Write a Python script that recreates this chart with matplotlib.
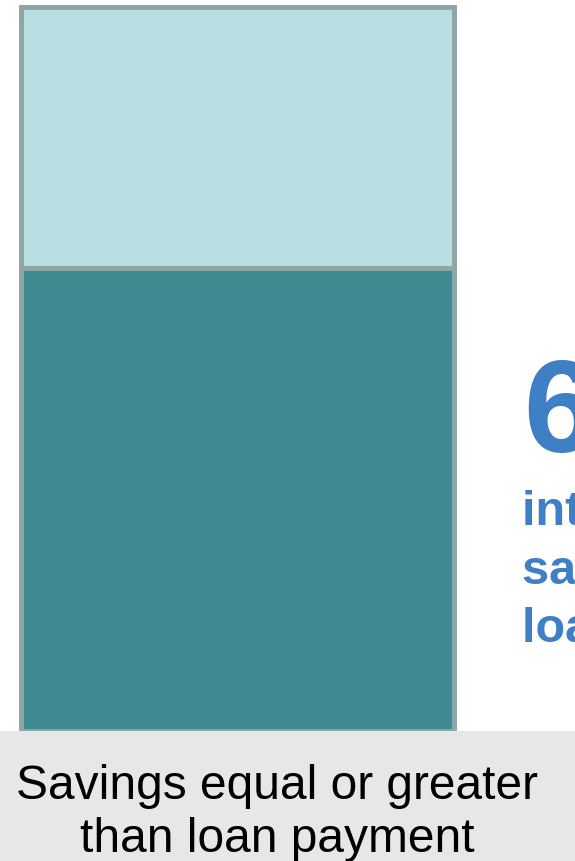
import matplotlib
matplotlib.use("Agg")
import matplotlib.pyplot as plt
from matplotlib.patches import Rectangle

plt.rcParams['font.family'] = ['Liberation Sans', 'DejaVu Sans']

# data
category = ['Savings equal or greater\nthan loan payment']
share_yes = [64]
share_no = [36]
headline = '64%'
headline_text = 'intend to use\nsavings for\nloan payment'

W, H = 575, 861
fig = plt.figure(figsize=(W / 100, H / 100), dpi=100)

# gray label band at the bottom
fig.patches.append(Rectangle((0, 0), 1, 130 / H, transform=fig.transFigure,
                             facecolor='#e6e7e9', edgecolor='none', zorder=0))

ax = fig.add_axes([20.5 / W, (H - 730.5) / H, 433 / W, 723 / H])
ax.set_facecolor('none')
ax.bar(0, share_yes, width=1, color='#3d8b91', edgecolor='#8fa5a6', linewidth=3.6)
ax.bar(0, share_no, bottom=share_yes, width=1, color='#b9dfe2',
       edgecolor='#8fa5a6', linewidth=3.6)
ax.set_xlim(-0.5, 0.5)
ax.set_ylim(0, 100)
ax.axis('off')
for p in ax.patches:
    p.set_clip_on(False)

# multi-line text: baseline refers to the last line
fig.text(277 / W, (H - 852) / H, category[0], ha='center', va='baseline',
         fontsize=34.5, color='black', linespacing=1.22)

fig.text(523 / W, (H - 452) / H, headline, ha='left', va='baseline',
         fontsize=94, fontweight='bold', color='#3f7fc6')
for i, line in enumerate(headline_text.split('\n')):
    fig.text(522 / W, (H - 525 - 58.5 * i) / H, line, ha='left', va='baseline',
             fontsize=35, fontweight='bold', color='#3f7fc6')

fig.savefig('out.png', dpi=100)
